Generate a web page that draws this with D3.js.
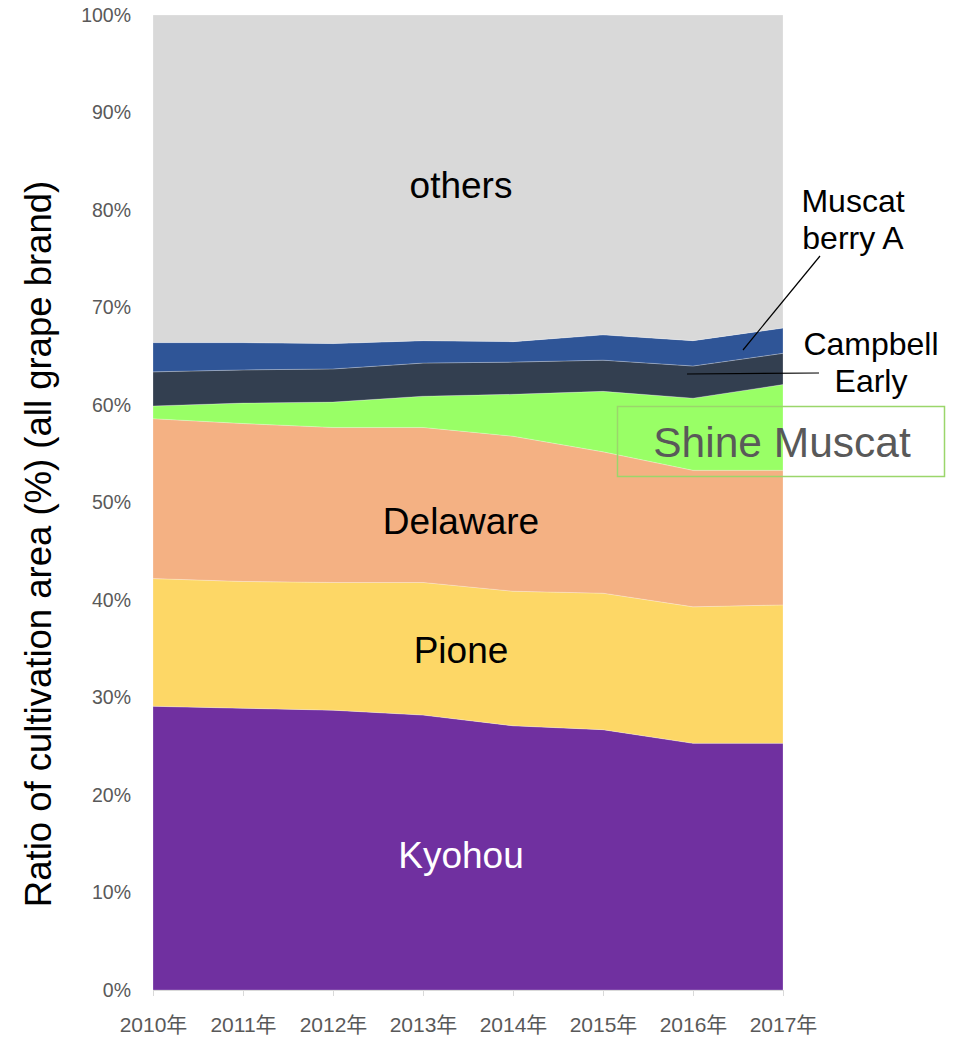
<!DOCTYPE html>
<html>
<head>
<meta charset="utf-8">
<script src="https://cdn.jsdelivr.net/npm/d3@7"></script>
<style>
  body { margin: 0; background: #fff; }
  text { font-family: "Liberation Sans", Arial, sans-serif; }
</style>
</head>
<body>
<div id="chart"></div>
<script>
// years and shares (%) per brand
var years = ["2010年", "2011年", "2012年", "2013年", "2014年", "2015年", "2016年", "2017年"];
var kyohou = [29.1, 28.9, 28.7, 28.2, 27.1, 26.7, 25.3, 25.3];
var pione = [13.1, 13.0, 13.1, 13.6, 13.8, 14.0, 14.0, 14.2];
var delaware = [16.4, 16.2, 15.9, 15.9, 15.9, 14.5, 14.0, 13.8];
var shineMuscat = [1.3, 2.1, 2.6, 3.2, 4.3, 6.2, 7.4, 8.8];
var campbellEarly = [3.5, 3.4, 3.4, 3.4, 3.3, 3.2, 3.3, 3.2];
var muscatBerryA = [3.0, 2.8, 2.6, 2.3, 2.1, 2.6, 2.6, 2.6];
var others = years.map(function(y, i) {
  return 100 - kyohou[i] - pione[i] - delaware[i] - shineMuscat[i] - campbellEarly[i] - muscatBerryA[i];
});
var yTicks = [0, 10, 20, 30, 40, 50, 60, 70, 80, 90, 100];

var keys = ["kyohou", "pione", "delaware", "shine", "campbell", "berryA", "others"];
var colors = {
  kyohou: "#7030a0", pione: "#fdd766", delaware: "#f4b183", shine: "#99ff66",
  campbell: "#333f50", berryA: "#2f5597", others: "#d9d9d9"
};

var rows = years.map(function(y, i) {
  return {
    year: y, kyohou: kyohou[i], pione: pione[i], delaware: delaware[i],
    shine: shineMuscat[i], campbell: campbellEarly[i], berryA: muscatBerryA[i], others: others[i]
  };
});

var width = 958, height = 1039;
var plotLeft = 153, plotRight = 783, plotTop = 15, plotBottom = 990;

var svg = d3.select("#chart").append("svg")
  .attr("width", width)
  .attr("height", height);

var x = d3.scalePoint().domain(years).range([plotLeft, plotRight]);
var y = d3.scaleLinear().domain([0, 100]).range([plotBottom, plotTop]);

var series = d3.stack().keys(keys)(rows);

var area = d3.area()
  .x(function(d) { return x(d.data.year); })
  .y0(function(d) { return y(d[0]); })
  .y1(function(d) { return y(d[1]); });

svg.selectAll("path.layer")
  .data(series)
  .enter()
  .append("path")
  .attr("class", "layer")
  .attr("d", area)
  .attr("fill", function(d) { return colors[d.key]; })
  .attr("stroke", "#ffffff")
  .attr("stroke-opacity", 0.4)
  .attr("stroke-width", 0.6);

// y axis labels
var yAxis = d3.axisLeft(y)
  .tickValues(yTicks)
  .tickSize(0)
  .tickPadding(22)
  .tickFormat(function(d) { return d + "%"; });
var gy = svg.append("g").attr("transform", "translate(" + plotLeft + ",0)").call(yAxis);
gy.select(".domain").remove();
gy.selectAll("text")
  .attr("fill", "#595959")
  .style("font-size", "19.5px");

// x axis
var xAxis = d3.axisBottom(x).tickSize(6).tickPadding(14);
var gx = svg.append("g").attr("transform", "translate(0," + plotBottom + ")").call(xAxis);
gx.select(".domain").attr("stroke", "#d9d9d9");
gx.selectAll(".tick line").attr("stroke", "#d9d9d9");
gx.selectAll("text")
  .attr("y", 42)
  .attr("dy", 0)
  .attr("fill", "#595959")
  .style("font-size", "21px")
  .style("font-family", "'Liberation Sans', 'Noto Sans CJK JP', sans-serif");

// y title
svg.append("text")
  .attr("transform", "translate(51,544) rotate(-90)")
  .attr("text-anchor", "middle")
  .style("font-size", "36.5px")
  .attr("fill", "#000")
  .text("Ratio of cultivation area (%) (all grape brand)");

// in-chart labels
var mid = 461;
function label(txt, xx, yy, size, fill) {
  svg.append("text")
    .attr("x", xx).attr("y", yy)
    .attr("text-anchor", "middle")
    .style("font-size", size + "px")
    .attr("fill", fill)
    .text(txt);
}
label("others", mid, 198, 37, "#000");
label("Delaware", mid, 534, 37, "#000");
label("Pione", mid, 663, 37, "#000");
label("Kyohou", mid, 868, 37, "#fff");

label("Muscat", 853, 212, 32, "#000");
label("berry A", 853, 249, 32, "#000");
label("Campbell", 871, 355, 32, "#000");
label("Early", 871, 392, 32, "#000");

// leader lines
svg.append("line").attr("x1", 743).attr("y1", 350).attr("x2", 820).attr("y2", 256)
  .attr("stroke", "#000").attr("stroke-width", 1.2);
svg.append("line").attr("x1", 687).attr("y1", 374).attr("x2", 819).attr("y2", 373)
  .attr("stroke", "#000").attr("stroke-width", 1.2);

// Shine Muscat callout box
svg.append("rect")
  .attr("x", 617.5).attr("y", 406.5)
  .attr("width", 327).attr("height", 70)
  .attr("fill", "none")
  .attr("stroke", "#9bd66b")
  .attr("stroke-width", 1.5);
label("Shine Muscat", 782, 457, 42.5, "#595959");
</script>
</body>
</html>
